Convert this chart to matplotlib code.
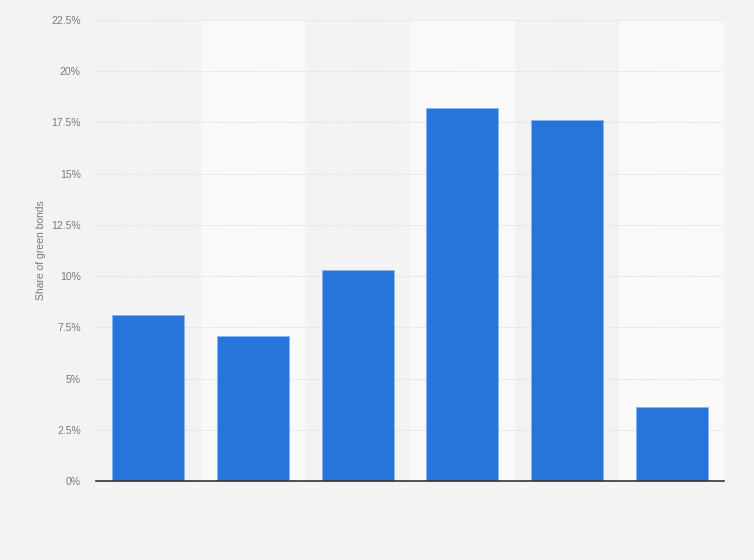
import matplotlib
matplotlib.use("Agg")
import matplotlib.pyplot as plt
from matplotlib.ticker import FuncFormatter

plt.rcParams["font.family"] = ["Liberation Sans", "DejaVu Sans"]

categories = ["Category 1", "Category 2", "Category 3", "Category 4", "Category 5", "Category 6"]
values = [8.1, 7.1, 10.3, 18.2, 17.6, 3.6]
yticks = [0, 2.5, 5, 7.5, 10, 12.5, 15, 17.5, 20, 22.5]

fig = plt.figure(figsize=(7.54, 5.6), dpi=100, facecolor="#f3f3f3")
ax = fig.add_axes([96/754, 79/560, 628/754, 461/560])
ax.set_facecolor("#f3f3f3")

x = list(range(len(categories)))
for i in x:
    if i % 2 == 1:
        ax.axvspan(i - 0.5, i + 0.5, color="#f9f9f9", zorder=0, lw=0)

ax.set_axisbelow(True)
ax.yaxis.grid(True, linestyle=(0, (1, 1.5)), color="#d6d6d6", linewidth=0.8)
ax.bar(x, values, width=0.69, color="#2775db", edgecolor="#8ab4ee", linewidth=0.6, zorder=3)

ax.set_xlim(-0.5, len(categories) - 0.5)
ax.set_ylim(0, 22.5)
ax.set_yticks(yticks)
ax.yaxis.set_major_formatter(FuncFormatter(lambda v, p: (f"{v:g}%")))
ax.tick_params(axis="y", length=0, pad=11, labelsize=7.5, labelcolor="#7a7a7a")
ax.set_xticks(x)
ax.set_xticklabels([])
ax.tick_params(axis="x", length=0)

for s in ["top", "right", "left"]:
    ax.spines[s].set_visible(False)
ax.spines["bottom"].set_color("#333333")
ax.spines["bottom"].set_linewidth(1.2)
ax.spines["bottom"].set_zorder(4)

ax.set_ylabel("Share of green bonds", fontsize=7.5, color="#7a7a7a", labelpad=4)

fig.savefig("out.png", dpi=100, facecolor=fig.get_facecolor())
